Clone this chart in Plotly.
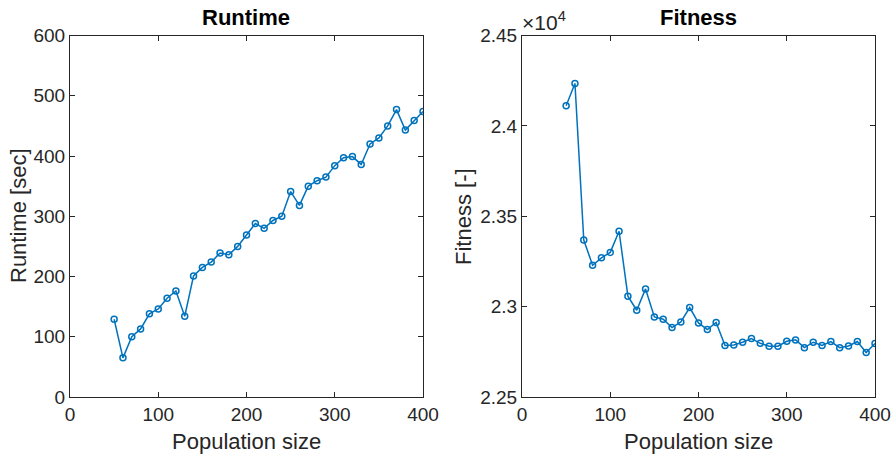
import plotly.graph_objects as go
from plotly.subplots import make_subplots

pop_size = list(range(50, 401, 10))
runtime = [129, 65, 100, 113, 138, 146, 164, 176, 134, 201, 215, 224, 239, 236, 250, 269,
           288, 280, 293, 300, 341, 318, 350, 359, 365, 384, 397, 399, 386, 420, 430, 450,
           477, 443, 459, 474]
fitness = [24111, 24235, 23368, 23229, 23270, 23300, 23417, 23058, 22980, 23098, 22943,
           22930, 22884, 22915, 22995, 22910, 22873, 22912, 22785, 22788, 22803, 22823,
           22797, 22781, 22781, 22808, 22816, 22773, 22803, 22785, 22807, 22773, 22782,
           22807, 22746, 22796]

rt_ticks = [0, 100, 200, 300, 400, 500, 600]
fit_ticks = [22500, 23000, 23500, 24000, 24500]
fit_ticktext = ["2.25", "2.3", "2.35", "2.4", "2.45"]
x_ticks = [0, 100, 200, 300, 400]

BLUE = "#0072BD"
AX = "#262626"
FONT = "Liberation Sans, Arial, sans-serif"

fig = make_subplots(rows=1, cols=2)

for col, y in ((1, runtime), (2, fitness)):
    fig.add_trace(go.Scatter(
        x=pop_size, y=y, mode="lines+markers",
        line=dict(color=BLUE, width=1.5),
        marker=dict(symbol="circle-open", size=6, color=BLUE, line=dict(width=1.5)),
        showlegend=False), row=1, col=col)

axis_common = dict(showline=True, linecolor=AX, linewidth=1, mirror="ticks",
                   ticks="inside", ticklen=5, tickcolor=AX, showgrid=False, zeroline=False,
                   automargin=False,
                   tickfont=dict(family=FONT, size=19, color=AX))

fig.update_xaxes(**axis_common, range=[0, 400], tickvals=x_ticks)
fig.update_xaxes(domain=[70/893, 423/893], row=1, col=1)
fig.update_xaxes(domain=[522/893, 875/893], row=1, col=2)
fig.update_yaxes(**axis_common, domain=[(459-397)/459, (459-35.5)/459])
fig.update_yaxes(range=[0, 600], tickvals=rt_ticks, row=1, col=1)
fig.update_yaxes(range=[22500, 24500], tickvals=fit_ticks, ticktext=fit_ticktext, row=1, col=2)

def ann(text, x, y, size=22, bold=False, angle=0, xanchor="center", yanchor="middle"):
    fig.add_annotation(text=f"<b>{text}</b>" if bold else text, x=x/893, y=(459-y)/459,
                       xref="paper", yref="paper", showarrow=False, textangle=angle,
                       xanchor=xanchor, yanchor=yanchor,
                       font=dict(family=FONT, size=size, color="black" if bold else AX))

ann("Runtime", 246, 18, bold=True)
ann("Fitness", 698, 18, bold=True)
ann("Population size", 246, 441)
ann("Population size", 698, 441)
ann("Runtime [sec]", 18, 216, angle=-90)
ann("Fitness [-]", 463, 216, angle=-90)
ann("×10<sup>4</sup>", 520, 21, size=21, xanchor="left")

fig.update_layout(width=893, height=459, margin=dict(l=0, r=0, t=0, b=0, autoexpand=False),
                  plot_bgcolor="white", paper_bgcolor="white",
                  font=dict(family=FONT, color=AX))

fig.write_html("out.html", config={"displayModeBar": False},
               post_script="document.body.style.margin='0';document.body.style.overflow='hidden';")
